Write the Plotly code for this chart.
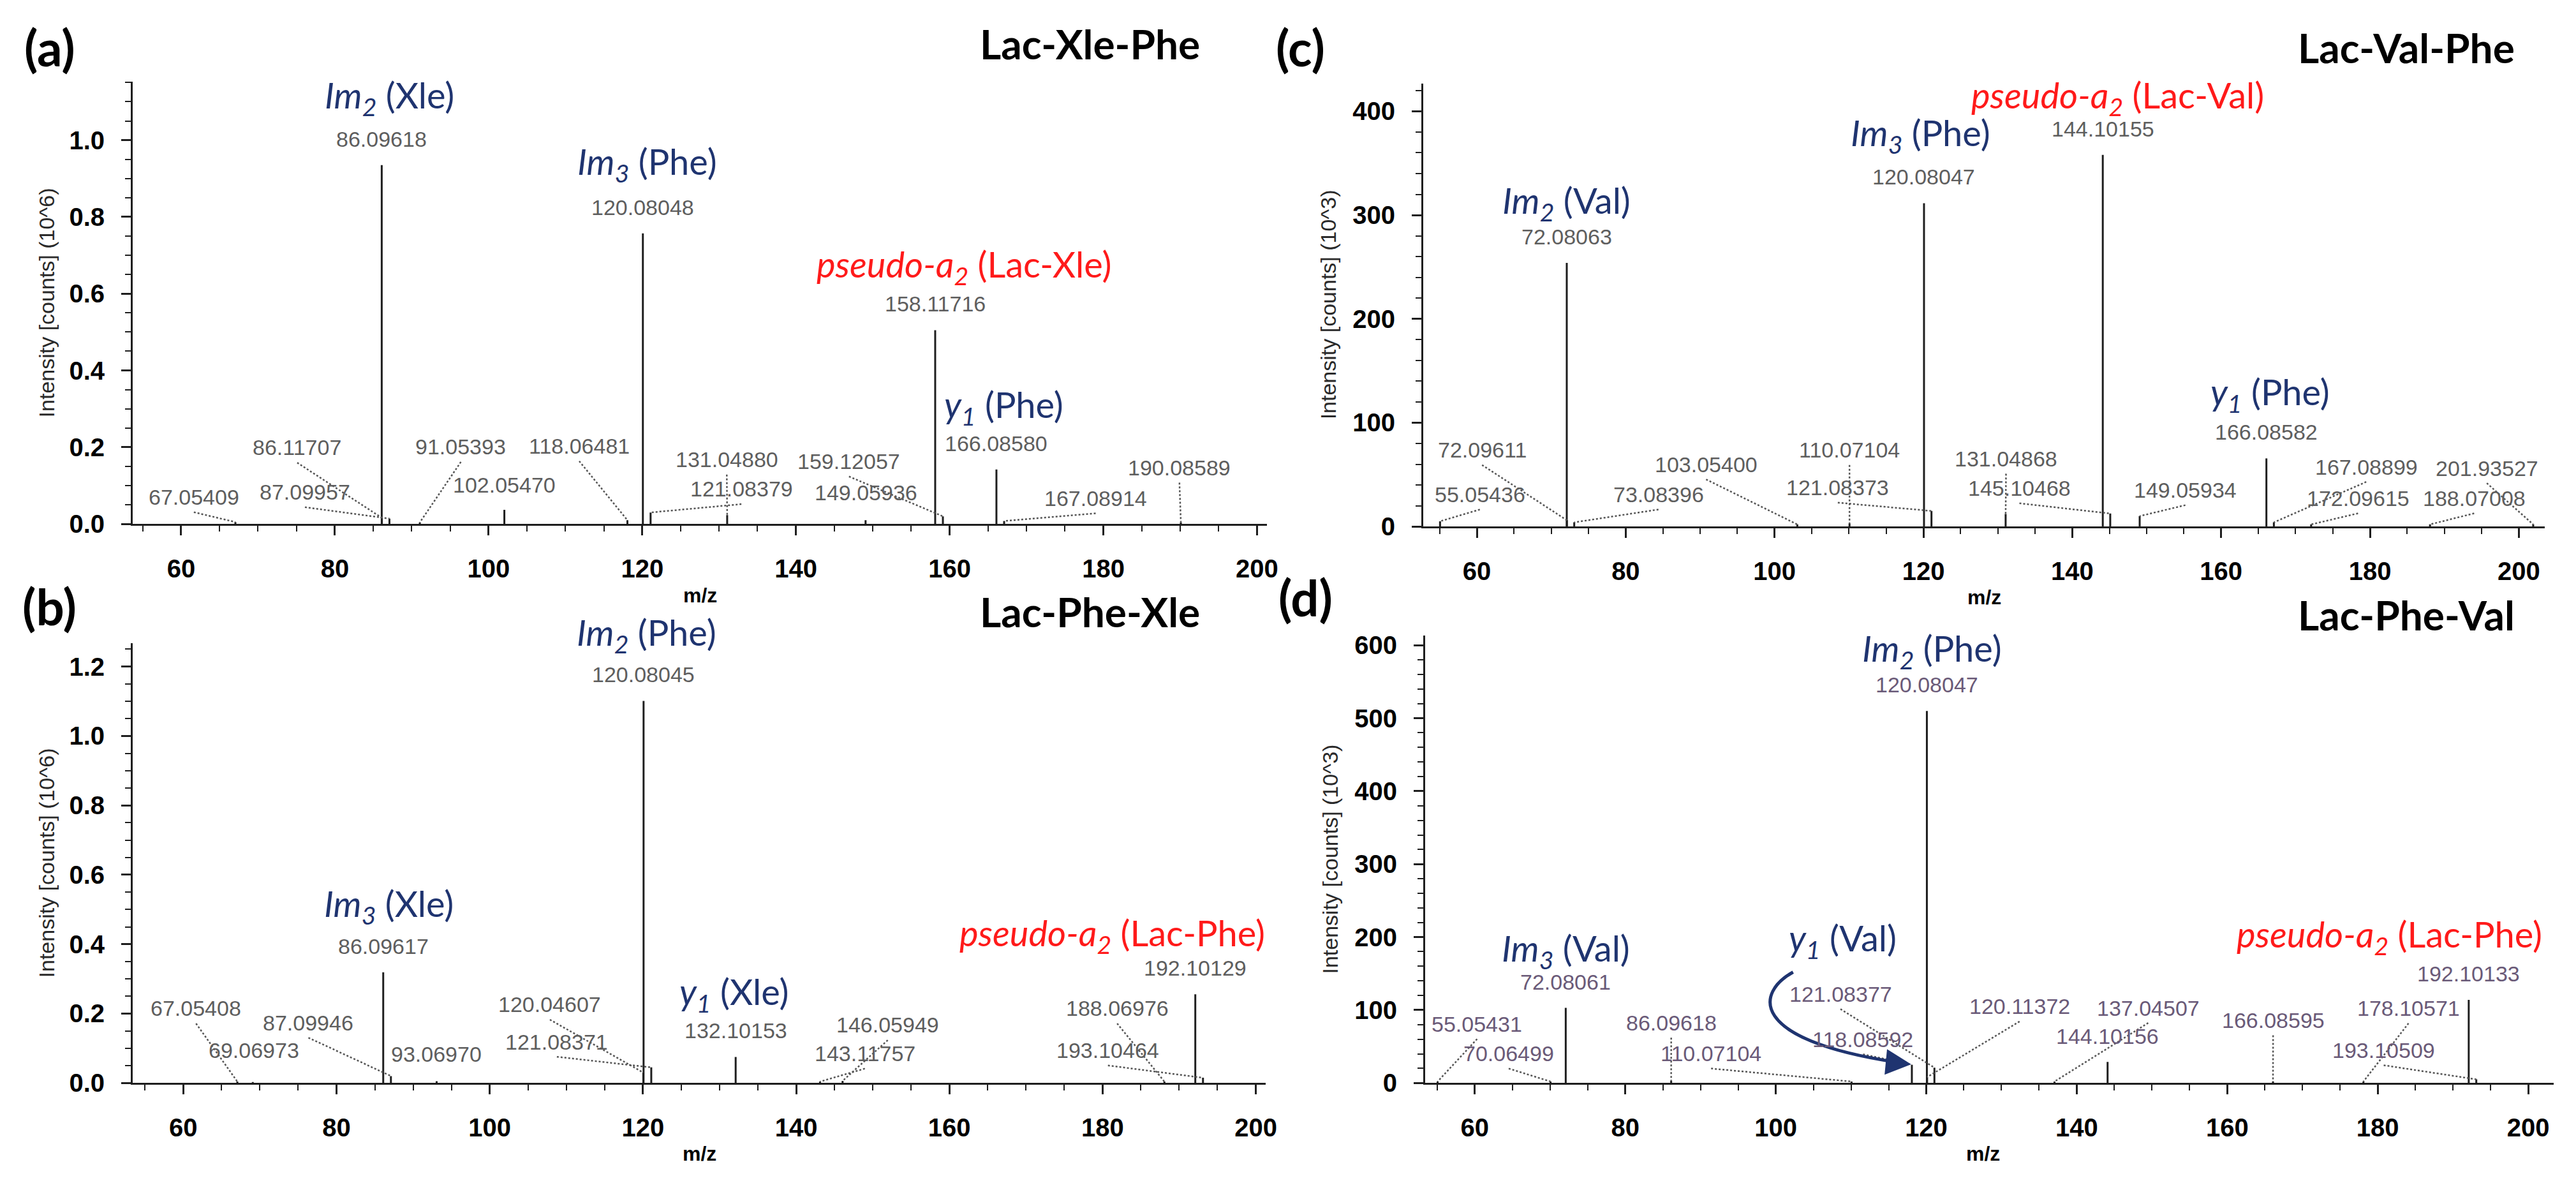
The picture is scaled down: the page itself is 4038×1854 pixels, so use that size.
import plotly.graph_objects as go

W, H = 4038, 1854

# (a) Lac-Xle-Phe, intensity in 10^6 counts; the first len(ION_A) peaks carry ion labels
MZ_A = [86.09618, 120.08048, 158.11716, 166.08580, 67.05409, 86.11707, 87.09957,
        91.05393, 102.05470, 118.06481, 121.08379, 131.04880, 149.05936,
        159.12057, 167.08914, 190.08589]
INT_A = [0.935, 0.757, 0.505, 0.142, 0.005, 0.016, 0.014, 0.004, 0.037, 0.010,
         0.030, 0.023, 0.010, 0.020, 0.008, 0.004]
ION_A = ["<i>Im<sub>2</sub></i> (Xle)", "<i>Im<sub>3</sub></i> (Phe)",
         "<i>pseudo-a<sub>2</sub></i> (Lac-Xle)", "<i>y<sub>1</sub></i> (Phe)"]

# (b) Lac-Phe-Xle, 10^6 counts
MZ_B = [120.08045, 86.09617, 132.10153, 192.10129, 67.05408, 69.06973, 87.09946,
        93.06970, 120.04607, 121.08371, 143.11757, 146.05949, 188.06976, 193.10464]
INT_B = [1.101, 0.319, 0.075, 0.2555, 0.004, 0.003, 0.020, 0.005, 0.030, 0.045,
         0.004, 0.006, 0.004, 0.015]
ION_B = ["<i>Im<sub>2</sub></i> (Phe)", "<i>Im<sub>3</sub></i> (Xle)",
         "<i>y<sub>1</sub></i> (Xle)", "<i>pseudo-a<sub>2</sub></i> (Lac-Phe)"]

# (c) Lac-Val-Phe, 10^3 counts
MZ_C = [72.08063, 120.08047, 144.10155, 166.08582, 55.05436, 72.09611, 73.08396,
        103.05400, 110.07104, 121.08373, 131.04868, 145.10468, 149.05934,
        167.08899, 172.09615, 188.07008, 201.93527]
INT_C = [254, 311.5, 358, 65.6, 5, 6, 4, 2, 3, 15, 12, 12.5, 10, 4, 2, 2, 2]
ION_C = ["<i>Im<sub>2</sub></i> (Val)", "<i>Im<sub>3</sub></i> (Phe)",
         "<i>pseudo-a<sub>2</sub></i> (Lac-Val)", "<i>y<sub>1</sub></i> (Phe)"]

# (d) Lac-Phe-Val, 10^3 counts
MZ_D = [120.08047, 72.08061, 192.10133, 118.08592, 55.05431, 70.06499, 86.09618,
        110.07104, 120.11372, 121.08377, 137.04507, 144.10156, 166.08595,
        178.10571, 193.10509]
INT_D = [510, 103, 114, 25, 2, 2, 3, 2, 8, 21, 2, 28.8, 2, 2, 5]
ION_D = ["<i>Im<sub>2</sub></i> (Phe)", "<i>Im<sub>3</sub></i> (Val)",
         "<i>pseudo-a<sub>2</sub></i> (Lac-Phe)"]
Y1_D = "<i>y<sub>1</sub></i> (Val)"

TITLES = ["Lac-Xle-Phe", "Lac-Phe-Xle", "Lac-Val-Phe", "Lac-Phe-Val"]
LETTERS = ["(a)", "(b)", "(c)", "(d)"]
Y_TITLES = ["Intensity [counts] (10^6)", "Intensity [counts] (10^6)",
            "Intensity [counts] (10^3)", "Intensity [counts] (10^3)"]

NAVY = "#1f3470"
RED = "#ff1a1a"
INK = "#1e1e1e"

# placement of the ion labels (px shifts from the peak top) and of the small m/z labels
# (data coords of the label centre, and whether a dotted leader goes to the peak)
panels = [
    dict(mz=MZ_A, inten=INT_A, ions=ION_A, ax="x", ay="y",
         px_x=(201, 1987), px_y=(115, 819), xr=(53.7, 201.3), yr=(0, 1.152),
         ion_dx=[12, 7, 45, 12], ion_dy=[106, 109, 100, 98], ion_right=[False] * 4,
         small=[(61.65, 0.070, True), (75.1, 0.199, True), (76.1, 0.083, True),
                (96.4, 0.201, True), (102.05, 0.101, False), (111.8, 0.203, True),
                (132.9, 0.091, True), (131.0, 0.168, True), (149.1, 0.082, False),
                (146.9, 0.163, True), (179.0, 0.067, True), (189.9, 0.147, True)],
         num_color="#5e5e5e", yfmt=".1f", dtick=0.2, ydminor=0.05,
         title_px=(1708, 54), letter_px=(70, 60), ytitle_px=(65, 467), mz_px=(1094, 933)),
    dict(mz=MZ_B, inten=INT_B, ions=ION_B, ax="x2", ay="y2",
         px_x=(201, 1985), px_y=(1009, 1709), xr=(53.4, 201.3), yr=(0, 1.267),
         ion_dx=[5, 9, -3, 111], ion_dy=[104, 104, 99, 93],
         ion_right=[False, False, False, True],
         small=[(61.66, 0.215, True), (69.2, 0.094, False), (76.33, 0.174, True),
                (93.0, 0.083, False), (107.85, 0.226, True), (108.76, 0.119, True),
                (148.97, 0.085, True), (151.96, 0.167, True), (181.9, 0.215, True),
                (180.7, 0.094, True)],
         num_color="#5e5e5e", yfmt=".1f", dtick=0.2, ydminor=0.05,
         title_px=(1708, 958), letter_px=(70, 950), ytitle_px=(65, 1359), mz_px=(1093, 1821)),
    dict(mz=MZ_C, inten=INT_C, ions=ION_C, ax="x3", ay="y3",
         px_x=(2233, 3999), px_y=(118, 823), xr=(52.8, 203.5), yr=(0, 426.6),
         ion_dx=[0, -5, 23, 6], ion_dy=[94, 107, 90, 101], ion_right=[False] * 4,
         small=[(60.4, 30.9, True), (60.7, 73.8, True), (84.4, 30.9, True),
                (90.8, 59.9, True), (110.07, 73.8, True), (108.5, 37.5, True),
                (131.1, 65.4, True), (132.9, 36.9, True), (155.2, 35.1, True),
                (179.5, 57.5, True), (178.4, 27.2, True), (194.0, 27.2, True),
                (195.7, 56.3, True)],
         num_color="#5e5e5e", yfmt="d", dtick=100, ydminor=20,
         title_px=(3781, 60), letter_px=(2040, 60), ytitle_px=(2083, 470), mz_px=(3116, 936)),
    dict(mz=MZ_D, inten=INT_D, ions=ION_D, ax="x4", ay="y4",
         px_x=(2236, 4013), px_y=(997, 1709), xr=(53.4, 203.4), yr=(0, 613),
         ion_dx=[8, 0, 117], ion_dy=[95, 90, 99], ion_right=[False, False, True],
         small=[(111.6, 60, True), (60.3, 81, True), (64.5, 40.5, True),
                (86.1, 82.7, True), (91.4, 40.5, True), (132.4, 105, True),
                (108.6, 122, True), (149.5, 103, True), (144.1, 64, False),
                (166.1, 86, True), (184.1, 102.5, True), (180.8, 45, True)],
         num_color="#6a5a78", yfmt="d", dtick=100, ydminor=20,
         title_px=(3781, 964), letter_px=(2048, 936), ytitle_px=(2086, 1353), mz_px=(3114, 1821)),
]

NUM_FONT = dict(family="Liberation Sans, Arial", size=34)
ION_FONT = dict(family="Lato, Open Sans", size=56)
TICK_FONT = dict(family="Liberation Sans, Arial", size=40, color="black", weight="bold")


def paper(x, y):
    return x / W, 1 - y / H


fig = go.Figure()
annotations = []
layout_axes = {}

for p in panels:
    n_ion = len(p["ions"])
    # stems
    xs, ys = [], []
    for m, h in zip(p["mz"], p["inten"]):
        xs += [m, m, None]
        ys += [0, h, None]
    fig.add_trace(go.Scatter(x=xs, y=ys, mode="lines", xaxis=p["ax"], yaxis=p["ay"],
                             line=dict(color=INK, width=3), hoverinfo="skip"))

    # labelled ions: m/z value above the peak, ion name above that
    for i in range(n_ion):
        m, h = p["mz"][i], p["inten"][i]
        annotations.append(dict(x=m, y=h, xref=p["ax"], yref=p["ay"], text=f"{m:.5f}",
                                showarrow=False, yanchor="middle", yshift=41,
                                font=dict(NUM_FONT, color=p["num_color"])))
        txt = p["ions"][i]
        annotations.append(dict(x=m, y=h, xref=p["ax"], yref=p["ay"], text=txt,
                                showarrow=False, yanchor="middle",
                                xanchor="right" if p["ion_right"][i] else "center",
                                xshift=p["ion_dx"][i], yshift=p["ion_dy"][i],
                                font=dict(ION_FONT, color=RED if "pseudo" in txt else NAVY)))

    # small peaks with offset labels and dotted leaders
    plot_h = p["px_y"][1] - p["px_y"][0]
    off = 24 * (p["yr"][1] - p["yr"][0]) / plot_h
    lx, ly = [], []
    for (m, h), (tx, ty, lead) in zip(zip(p["mz"][n_ion:], p["inten"][n_ion:]), p["small"]):
        annotations.append(dict(x=tx, y=ty, xref=p["ax"], yref=p["ay"], text=f"{m:.5f}",
                                showarrow=False, yanchor="middle",
                                font=dict(NUM_FONT, color=p["num_color"])))
        if lead:
            lx += [tx, m, None]
            ly += [ty - off, h, None]
    fig.add_trace(go.Scatter(x=lx, y=ly, mode="lines", xaxis=p["ax"], yaxis=p["ay"],
                             line=dict(color="#555555", width=2.5, dash="dot"),
                             hoverinfo="skip"))

    # axes
    x0, x1 = p["px_x"]
    y0, y1 = p["px_y"]
    common = dict(showline=True, linecolor=INK, linewidth=3, ticks="outside", tickwidth=3,
                  tickcolor=INK, ticklen=15, showgrid=False, zeroline=False,
                  tickfont=TICK_FONT)
    xkey = "xaxis" + p["ax"][1:]
    ykey = "yaxis" + p["ay"][1:]
    layout_axes[xkey] = dict(common, domain=[x0 / W, x1 / W], range=list(p["xr"]),
                             anchor=p["ay"], tick0=0, dtick=20, ticklabelstandoff=18,
                             minor=dict(ticks="outside", dtick=5, ticklen=9, tickwidth=2,
                                        tickcolor=INK, showgrid=False))
    layout_axes[ykey] = dict(common, domain=[1 - y1 / H, 1 - y0 / H], range=list(p["yr"]),
                             anchor=p["ax"], tick0=0, dtick=p["dtick"],
                             tickformat=p["yfmt"], ticklabelstandoff=18,
                             minor=dict(ticks="outside", dtick=p["ydminor"], ticklen=9,
                                        tickwidth=2, tickcolor=INK, showgrid=False))

# texts around the panels
centred = dict(xref="paper", yref="paper", showarrow=False, xanchor="center", yanchor="middle")
for k, p in enumerate(panels):
    tx, ty = paper(*p["title_px"])
    annotations.append(dict(centred, x=tx, y=ty, text=TITLES[k],
                            font=dict(family="Lato", size=64, color="black", weight="bold")))
    lx_, ly_ = paper(*p["letter_px"])
    annotations.append(dict(centred, x=lx_, y=ly_, text=LETTERS[k],
                            font=dict(family="Lato", size=78, color="black", weight="bold")))
    yx, yy = paper(*p["ytitle_px"])
    annotations.append(dict(centred, x=yx, y=yy, text=Y_TITLES[k], textangle=-90,
                            font=dict(family="Liberation Sans, Arial", size=34,
                                      color="#2a2a2a")))
    mx, my = paper(*p["mz_px"])
    annotations.append(dict(centred, x=mx, y=my, text="m/z",
                            font=dict(family="Liberation Sans, Arial", size=32, color="black",
                                      weight="bold")))

# y1 (Val) in panel (d) with its curved arrow to the 118 peak
annotations.append(dict(x=108.9, y=196, xref="x4", yref="y4", text=Y1_D, showarrow=False,
                        yanchor="middle", font=dict(ION_FONT, color=NAVY)))
annotations.append(dict(x=118.0, y=25.5, xref="x4", yref="y4", ax=115.0, ay=28.5,
                        axref="x4", ayref="y4", text="", showarrow=True, arrowhead=2,
                        arrowsize=1.6, arrowwidth=5, arrowcolor=NAVY))
shapes = [dict(type="path", xref="x4", yref="y4",
               path="M 102.3,152 C 97.5,125 96,60 116.0,28.5",
               line=dict(color=NAVY, width=5))]

fig.update_layout(width=W, height=H, margin=dict(l=0, r=0, t=0, b=0),
                  paper_bgcolor="white", plot_bgcolor="white", showlegend=False,
                  annotations=annotations, shapes=shapes, **layout_axes)

fig.write_html("out.html")
